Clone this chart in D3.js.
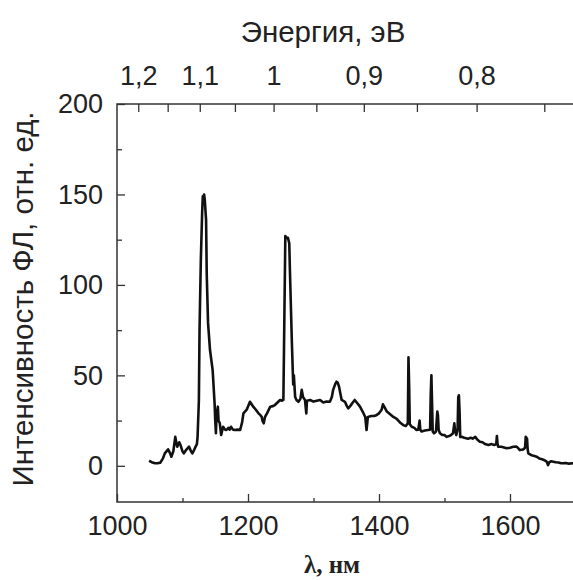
<!DOCTYPE html>
<html>
<head>
<meta charset="utf-8">
<script src="https://cdn.jsdelivr.net/npm/d3@7"></script>
<style>
html,body{margin:0;padding:0;background:#fff;}
svg{display:block;}
text{font-family:"Liberation Sans",Arial,sans-serif;fill:#222;}
</style>
</head>
<body>
<svg id="chart" width="573" height="580"></svg>
<script>
// ---- data ----
const wavelength = [1049,1053,1058,1062,1066,1070,1073,1078,1081,1083,1086,1089,1091,1092,1095,1097,1100,1102,1106,1110,1113,1115,1118,1120,1122,1123,1125,1126,1128,1130,1131,1132,1133,1134,1136,1137,1139,1142,1146,1149,1150,1151,1152,1154,1155,1157,1159,1162,1165,1167,1170,1172,1174,1177,1180,1184,1188,1191,1193,1198,1203,1208,1212,1216,1219,1221,1222,1224,1226,1229,1234,1238,1241,1245,1249,1252,1254,1255,1257,1259,1261,1263,1264,1267,1269,1270,1272,1274,1277,1280,1282,1284,1287,1289,1290,1295,1300,1305,1310,1315,1320,1325,1328,1330,1333,1335,1337,1339,1341,1343,1348,1351,1353,1356,1360,1363,1366,1371,1375,1379,1381,1383,1388,1392,1396,1400,1404,1406,1409,1412,1417,1422,1427,1432,1437,1441,1444,1445,1446,1447,1450,1454,1457,1460,1462,1463,1465,1470,1475,1478,1479,1480,1481,1482,1484,1487,1489,1490,1491,1493,1497,1500,1503,1507,1510,1513,1515,1516,1518,1520,1521,1522,1523,1524,1527,1530,1536,1540,1543,1547,1550,1554,1558,1562,1567,1572,1576,1579,1580,1581,1582,1587,1592,1595,1600,1605,1610,1612,1615,1620,1623,1624,1626,1627,1628,1632,1636,1641,1645,1650,1653,1656,1658,1660,1663,1666,1670,1674,1678,1681,1685,1690,1696,1700];
const intensity = [2.8,2,1.4,1.5,1.7,4,6.9,9.1,7,5,8,16,12,10.6,13,11.5,8,6.9,9,10.6,8,6.9,9,10.6,12,16,36,75,114,140,149,145,150,147,136,106,79,64,53,34.5,25,18,28,32.7,25,23.5,17,21.6,20,19.8,21,20,21.6,20,19.8,20,19.8,24,29,31,35.4,32.7,31,29,28,27,25,23.5,27,29,32.7,33,33.6,35,36.4,36,36.4,66,127,126,126,123,108,68,45,50,38,36.4,35.4,37,42,38,36.4,29,36,36.4,35.5,36,36.4,35,35.5,35.4,38,42,45,46.5,46,43.7,40,36.4,35.4,33,31.8,33,35,36.4,35,32.7,30,27,19.8,27,27.5,27.5,28,29,31,34,32,30,28.5,27,26,24,22.5,22,23.5,60,45,23,21.6,21,19.8,20,25,20,19,19.5,19.8,20,40,50,35,19,18,19,30,28,20,18,17,17,16,16.5,17,18,23.5,20,17,20,38,39,30,16,16,15.5,15,15.5,15,16,14.5,13.3,13,12,11.5,12,11.5,12,16.5,12,10.6,10.5,10,9.7,10,10.5,10.6,10,8.7,9,10,16,15,9,6.9,6,5.5,5,4,3.5,3,2.3,0.4,2,2.5,2.3,2,1.8,1.4,1.4,1.6,1.2,1.4,1.5];
const xTicks = [1000,1200,1400,1600];
const xMinorTicks = [1100,1300,1500,1700];
const yTicks = [0,50,100,150,200];
const yMinorTicks = [25,75,125,175];
const energyTicks = [1.2,1.1,1.0,0.9,0.8];
const energyLabels = ["1,2","1,1","1","0,9","0,8"];
const energyMinorTicks = [1.15,1.05,0.95,0.85,0.75];
const hc = 1239.84; // eV*nm

// ---- layout ----
const svg = d3.select("#chart");
const L = 117, R = 575.5, T = 104, B = 502;
const x = d3.scaleLinear().domain([1000,1700]).range([L,R]);
const y = d3.scaleLinear().domain([-20,200]).range([B,T]);
const axisColor = "#333";

// frame
svg.append("rect").attr("x",L).attr("y",T).attr("width",R-L).attr("height",B-T)
  .attr("fill","none").attr("stroke",axisColor).attr("stroke-width",1.5);

// bottom axis (ticks inward)
svg.append("g").attr("transform",`translate(0,${B})`)
  .call(d3.axisBottom(x).tickValues(xTicks).tickSizeInner(-8).tickSizeOuter(0).tickPadding(14).tickFormat(d3.format("d")));
svg.append("g").attr("transform",`translate(0,${B})`)
  .call(d3.axisBottom(x).tickValues(xMinorTicks).tickSizeInner(-4).tickSizeOuter(0).tickFormat(""));
// left axis
svg.append("g").attr("transform",`translate(${L},0)`)
  .call(d3.axisLeft(y).tickValues(yTicks).tickSizeInner(-8).tickSizeOuter(0).tickPadding(14));
svg.append("g").attr("transform",`translate(${L},0)`)
  .call(d3.axisLeft(y).tickValues(yMinorTicks).tickSizeInner(-5).tickSizeOuter(0).tickFormat(""));
// top energy axis (positions via wavelength scale, λ = hc/E)
const topG = svg.append("g").attr("transform",`translate(0,${T})`);
energyTicks.concat(energyMinorTicks).forEach(e => {
  const px = x(hc/e);
  if (px < L || px > R) return;
  topG.append("line").attr("x1",px).attr("x2",px).attr("y1",0).attr("y2",8)
    .attr("stroke",axisColor).attr("stroke-width",1.3);
});
energyTicks.forEach((e,i) => {
  topG.append("text").attr("x",x(hc/e)).attr("y",-19).attr("text-anchor","middle")
    .attr("font-size",27).text(energyLabels[i]);
});

svg.selectAll(".domain").remove();
svg.selectAll(".tick line").attr("stroke",axisColor).attr("stroke-width",1.3);
svg.selectAll(".tick text").attr("font-size",27).attr("fill","#222")
  .attr("font-family","Liberation Sans, Arial, sans-serif");

// spectrum
const pts = wavelength.map((w,i)=>[w,intensity[i]]);
svg.append("path").datum(pts)
  .attr("fill","none").attr("stroke","#111").attr("stroke-width",2.6)
  .attr("stroke-linejoin","round")
  .attr("d", d3.line().x(d=>x(d[0])).y(d=>y(d[1])));

// titles
svg.append("text").attr("x",323).attr("y",42).attr("text-anchor","middle")
  .attr("font-size",29.5).text("Энергия, эВ");
svg.append("text").attr("transform","translate(33,299) rotate(-90)")
  .attr("text-anchor","middle").attr("font-size",29.5).text("Интенсивность ФЛ, отн. ед.");
svg.append("text").attr("x",332).attr("y",573).attr("text-anchor","middle")
  .attr("font-size",25).attr("font-weight","bold")
  .style("font-family","'Liberation Serif','Times New Roman',serif")
  .text("λ, нм");
</script>
</body>
</html>
